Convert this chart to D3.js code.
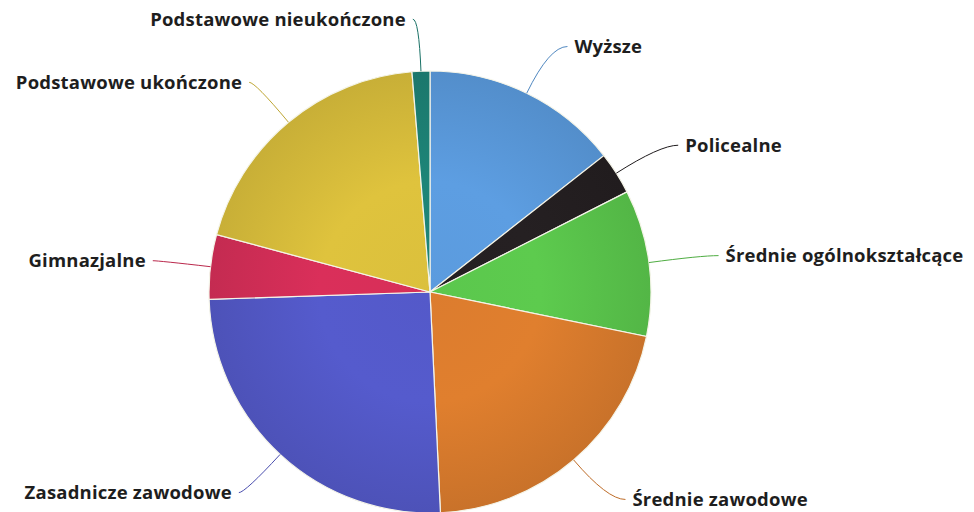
<!DOCTYPE html>
<html>
<head>
<meta charset="utf-8">
<script src="https://cdn.jsdelivr.net/npm/d3@7/dist/d3.min.js"></script>
<style>
  body { margin: 0; background: #fff; }
  svg { display: block; }
  .lbl { font-family: "Open Sans", sans-serif; font-weight: 700; font-size: 18.5px; fill: #1e1e1e; letter-spacing: 0.2px; }
</style>
</head>
<body>
<div id="chart-area"></div>
<script>
// dane (udzial w %)
const categories = ["Wyższe", "Policealne", "Średnie ogólnokształcące", "Średnie zawodowe",
  "Zasadnicze zawodowe", "Gimnazjalne", "Podstawowe ukończone", "Podstawowe nieukończone"];
const values = [14.4, 3.1, 10.7, 21.0, 25.2, 4.7, 19.5, 1.3];
const colors = ["#5896d6", "#231e20", "#58c04a", "#d4782c", "#5156c2", "#cf2d55", "#d3b93a", "#1c7e72"];

const width = 974, height = 512;
const cx = 430, cy = 292, r = 221;

const data = categories.map((c, i) => ({ name: c, value: values[i], color: colors[i] }));

let svg = d3.select("#chart-area").append("svg")
  .attr("width", width)
  .attr("height", height);

const defs = svg.append("defs");
// gradient dla kazdego kawalka - troche jasniej w srodku, ciemniej przy brzegu
data.forEach((d, i) => {
  const c = d3.color(d.color);
  const g = defs.append("radialGradient")
    .attr("id", "g" + i)
    .attr("gradientUnits", "userSpaceOnUse")
    .attr("cx", 0).attr("cy", 0).attr("r", r);
  g.append("stop").attr("offset", 0).attr("stop-color", c.brighter(0.1));
  g.append("stop").attr("offset", 0.5).attr("stop-color", c.brighter(0.15));
  g.append("stop").attr("offset", 1).attr("stop-color", c.darker(0.15));
});

const pie = d3.pie().value(d => d.value).sort(null);
const arc = d3.arc().innerRadius(0).outerRadius(r);
const arcs = pie(data);

const g = svg.append("g").attr("transform", `translate(${cx},${cy})`);

g.selectAll("path.slice")
  .data(arcs)
  .enter()
  .append("path")
  .attr("class", "slice")
  .attr("d", arc)
  .attr("fill", (d, i) => `url(#g${i})`)
  .attr("stroke", "#f4f4e8")
  .attr("stroke-width", 1.2);

// linie do etykiet
const pt = (a, rad) => [Math.sin(a) * rad, -Math.cos(a) * rad];

arcs.forEach((d, i) => {
  const mid = (d.startAngle + d.endAngle) / 2;
  const right = Math.sin(mid) >= 0;
  const p0 = pt(mid, r);
  const p1 = pt(mid, r + 52);
  const p2 = [p1[0] + (right ? 18 : -6), p1[1]];

  g.append("path")
    .attr("d", `M${p0[0]},${p0[1]} Q${p1[0]},${p1[1]} ${p2[0]},${p2[1]}`)
    .attr("fill", "none")
    .attr("stroke", d3.color(d.data.color).darker(0.3))
    .attr("stroke-width", 1);

  g.append("text")
    .attr("class", "lbl")
    .attr("x", p2[0] + (right ? 7 : -7))
    .attr("y", p2[1])
    .attr("dy", "0.35em")
    .attr("text-anchor", right ? "start" : "end")
    .text(d.data.name);
});
</script>
</body>
</html>
